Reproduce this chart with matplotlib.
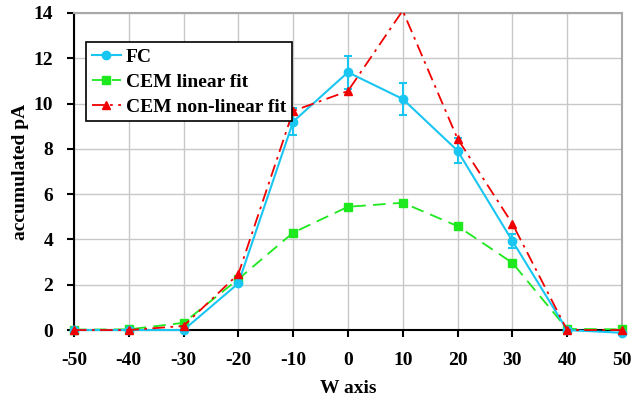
import matplotlib
matplotlib.use("Agg")
import matplotlib.pyplot as plt
from matplotlib.lines import Line2D

w_axis = [-50, -40, -30, -20, -10, 0, 10, 20, 30, 40, 50]
fc = [0.0, 0.0, 0.0, 2.06, 9.2, 11.38, 10.2, 7.92, 3.94, 0.0, -0.12]
fc_err = [0.0, 0.0, 0.0, 0.0, 0.6, 0.72, 0.69, 0.55, 0.3, 0.0, 0.0]
cem_linear = [0.02, 0.03, 0.32, 2.25, 4.3, 5.44, 5.62, 4.59, 2.97, 0.05, 0.03]
cem_nonlinear = [0.0, 0.0, 0.18, 2.47, 9.67, 10.55, 14.1, 8.45, 4.7, 0.0, 0.0]

plt.rcParams["font.family"] = ["Liberation Serif", "DejaVu Serif"]
plt.rcParams["font.weight"] = "bold"
plt.rcParams["axes.unicode_minus"] = False

fig = plt.figure(figsize=(6.32, 4.03), dpi=100)
ax = fig.add_axes([0.117, 0.181, 0.867, 0.787])

cyan = "#19C6F2"
green = "#1EE81E"
red = "#F00000"
fc_style = dict(color=cyan, lw=1.5, marker="o", ms=6)
lin_style = dict(color=green, lw=1.3, ls=(0, (7, 4)), marker="s", ms=6)
nonlin_style = dict(color=red, lw=1.3, ls=(0, (7, 3, 1.5, 3)), marker="^", ms=6)

ax.errorbar(w_axis, fc, yerr=fc_err, capsize=3, elinewidth=1.5, capthick=1.5,
            clip_on=False, zorder=4, **fc_style)
ax.plot(w_axis, cem_linear, clip_on=False, zorder=3, **lin_style)
# peak point lies above the plotted range; show the line but skip its marker
marks = [i for i, v in enumerate(cem_nonlinear) if v <= 14]
ax.plot(w_axis, cem_nonlinear, markevery=marks, clip_on=False, zorder=5, **nonlin_style)

ax.set_xlim(-50, 50)
ax.set_ylim(0, 14)
ax.set_xticks(range(-50, 51, 10))
ax.set_yticks(range(0, 15, 2))
ax.grid(True, color="#c8c8c8", lw=1.0)
ax.set_axisbelow(True)

for s in ("top", "right"):
    ax.spines[s].set_color("#a8a8a8")
    ax.spines[s].set_linewidth(1.5)
for s in ("left", "bottom"):
    ax.spines[s].set_color("black")
    ax.spines[s].set_linewidth(1.5)

ax.tick_params(axis="both", direction="out", length=5, width=1.5, labelsize=14)
ax.tick_params(axis="x", pad=11)
ax.tick_params(axis="y", pad=10)
ax.set_xlabel("W axis", fontsize=14, fontweight="bold", labelpad=8)
ax.set_ylabel("accumulated pA", fontsize=14, fontweight="bold", labelpad=3)

handles = [Line2D([], [], **fc_style),
           Line2D([], [], **lin_style),
           Line2D([], [], **nonlin_style)]
labels = ["FC", "CEM linear fit", "CEM non-linear fit"]
leg = ax.legend(handles, labels, loc="upper left", bbox_to_anchor=(0.022, 0.908), fontsize=14,
                frameon=True, fancybox=False, edgecolor="black", framealpha=1,
                handlelength=1.5, borderpad=0.3, labelspacing=0.38, handletextpad=0.25,
                borderaxespad=0)
leg.get_frame().set_linewidth(1.2)

fig.savefig("out.png", dpi=100)
